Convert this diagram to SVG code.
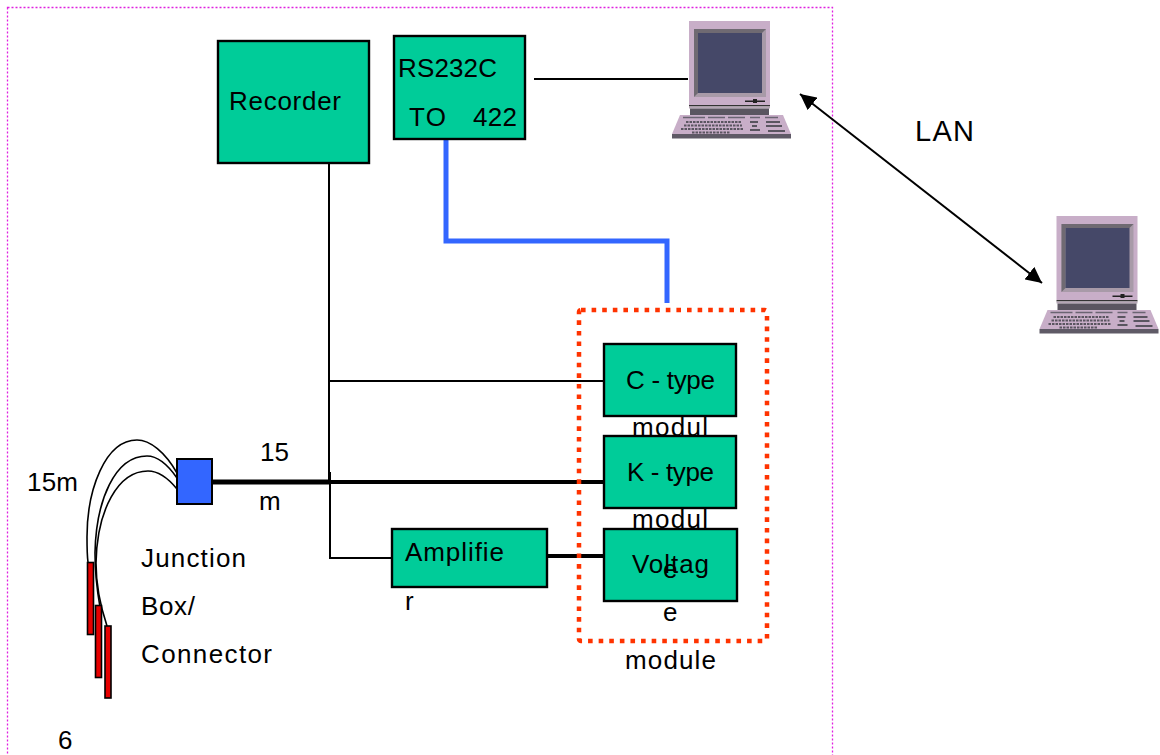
<svg xmlns="http://www.w3.org/2000/svg" width="1160" height="755" viewBox="0 0 1160 755">
<style>
text{font-family:"Liberation Sans",Arial,sans-serif;font-size:26px;fill:#000}
.box{fill:#00cc99;stroke:#000;stroke-width:2.4}
.l{fill:none;stroke:#000;stroke-width:2}
.t{fill:none;stroke:#000;stroke-width:4}
.c{fill:none;stroke:#000;stroke-width:1.6}
.red{fill:#e60000;stroke:#000;stroke-width:1.6}
</style>
<defs>
<marker id="a" viewBox="0 0 10 10" refX="10" refY="5" markerWidth="16" markerHeight="16" markerUnits="userSpaceOnUse" orient="auto-start-reverse"><path d="M0 0L10 5L0 10z" fill="#000"/></marker>
<g id="pc">
<rect x="689" y="21" width="81" height="84" fill="#c8aec8"/>
<path d="M694 29H766V97H694z" fill="#a89aa8"/>
<path d="M694 29H766L762 33H698V93L694 97z" fill="#6f6a72"/>
<rect x="698" y="33" width="64" height="60" fill="#454868"/>
<rect x="745" y="100.500" width="20" height="1.500" fill="#222"/><rect x="753" y="99" width="4" height="4" fill="#222"/>
<rect x="689" y="105" width="81" height="1.500" fill="#333"/>
<rect x="689" y="106.500" width="81" height="2" fill="#b5a5b5"/>
<rect x="690" y="108.500" width="79" height="6.500" fill="#5a5560"/>
<path d="M680 115H783L791 134H672z" fill="#c8aec8"/>
<rect x="672" y="134" width="119" height="4.500" fill="#5f5a66"/>
<path d="M683 117.500H705M708 117.500H725M728 117.500H745M750 117.500H760M765 117.500H778" stroke="#6a6472" stroke-width="1.500" fill="none"/>
<path d="M686 122H742M684 125.500H742M681 129H744M692 132.500H730" stroke="#5a5560" stroke-width="2" stroke-dasharray="2.500 1" fill="none"/>
<path d="M750 122H758M766 122H780M752 126H757M766 126H782M750 130H760M768 131H785" stroke="#5a5560" stroke-width="1.800" fill="none"/>
</g>
</defs>
<rect x="7.500" y="7.500" width="825" height="760" fill="none" stroke="#e020e0" stroke-width="1.300" stroke-dasharray="2 2"/>
<g id="connectors">
<path class="l" d="M534 79H688"/>
<path class="l" d="M329 164V482M330 472V558H392"/>
<path class="l" d="M329 381H604"/>
<path d="M213 482H330" fill="none" stroke="#000" stroke-width="5"/>
<path class="t" d="M330 482H604"/>
<path class="t" d="M547 556H604"/>
<path d="M446 139V241H667V303" fill="none" stroke="#3366ff" stroke-width="5"/>
<path class="l" d="M800 94L1042 283" marker-start="url(#a)" marker-end="url(#a)"/>
<path class="c" d="M177 473C165 452 150 440 137 440C105 440 87 490 87 537C87 548 87 555 88 562"/>
<path class="c" d="M177 478C168 465 158 456 147 456C115 456 96 500 95 553C95 575 97 590 100 607"/>
<path class="c" d="M177 489C168 478 158 471 148 471C118 471 97 510 96 563C96 585 100 605 107 626"/>
</g>
<g id="module-frame"><rect x="579" y="310" width="188" height="331" rx="2" fill="none" stroke="#ff3300" stroke-width="4.500" stroke-dasharray="4.600 6"/></g>
<g id="recorder"><rect class="box" x="218" y="41" width="151" height="122"/><text x="229" y="110" textLength="112">Recorder</text></g>
<g id="rs232"><rect class="box" x="394" y="36" width="131" height="103"/><text x="398" y="77" textLength="99">RS232C</text><text x="409" y="126" textLength="37">TO</text><text x="473" y="126" textLength="44">422</text></g>
<g id="pc1"><use href="#pc"/></g>
<g id="pc2"><use href="#pc" x="367.500" y="195"/></g>
<text x="915" y="141" style="font-size:29px" textLength="59">LAN</text>
<g id="c-type"><text x="632" y="436" textLength="76">modul</text><rect class="box" x="604" y="344" width="132" height="72"/><text x="626" y="389" textLength="89">C - type</text></g>
<g id="k-type"><text x="632" y="528" textLength="76">modul</text><rect class="box" x="604" y="436" width="132" height="72"/><text x="627" y="481" textLength="87">K - type</text></g>
<g id="voltage"><rect class="box" x="604" y="529" width="133" height="72"/><text x="632" y="573" textLength="77">Voltag</text><text x="663" y="578">e</text><text x="663" y="621">e</text><text x="625" y="669" textLength="91">module</text></g>
<g id="amplifier"><rect class="box" x="392" y="529" width="155" height="58"/><text x="405" y="561" textLength="99">Amplifie</text><text x="405" y="610">r</text></g>
<g id="junction"><rect x="177" y="459" width="35" height="45" fill="#3366ff" stroke="#000" stroke-width="2"/></g>
<g id="probes"><rect class="red" x="87.500" y="562.500" width="6" height="72"/><rect class="red" x="95.500" y="605.500" width="6" height="72"/><rect class="red" x="105" y="626" width="6" height="72"/></g>
<text x="260" y="461" textLength="29">15</text><text x="259" y="510" textLength="22">m</text><text x="27" y="491" textLength="51">15m</text>
<text x="141" y="567" textLength="105">Junction</text><text x="141" y="615" textLength="54">Box/</text><text x="141" y="663" textLength="131">Connector</text>
<text x="58" y="749">6</text>
</svg>
